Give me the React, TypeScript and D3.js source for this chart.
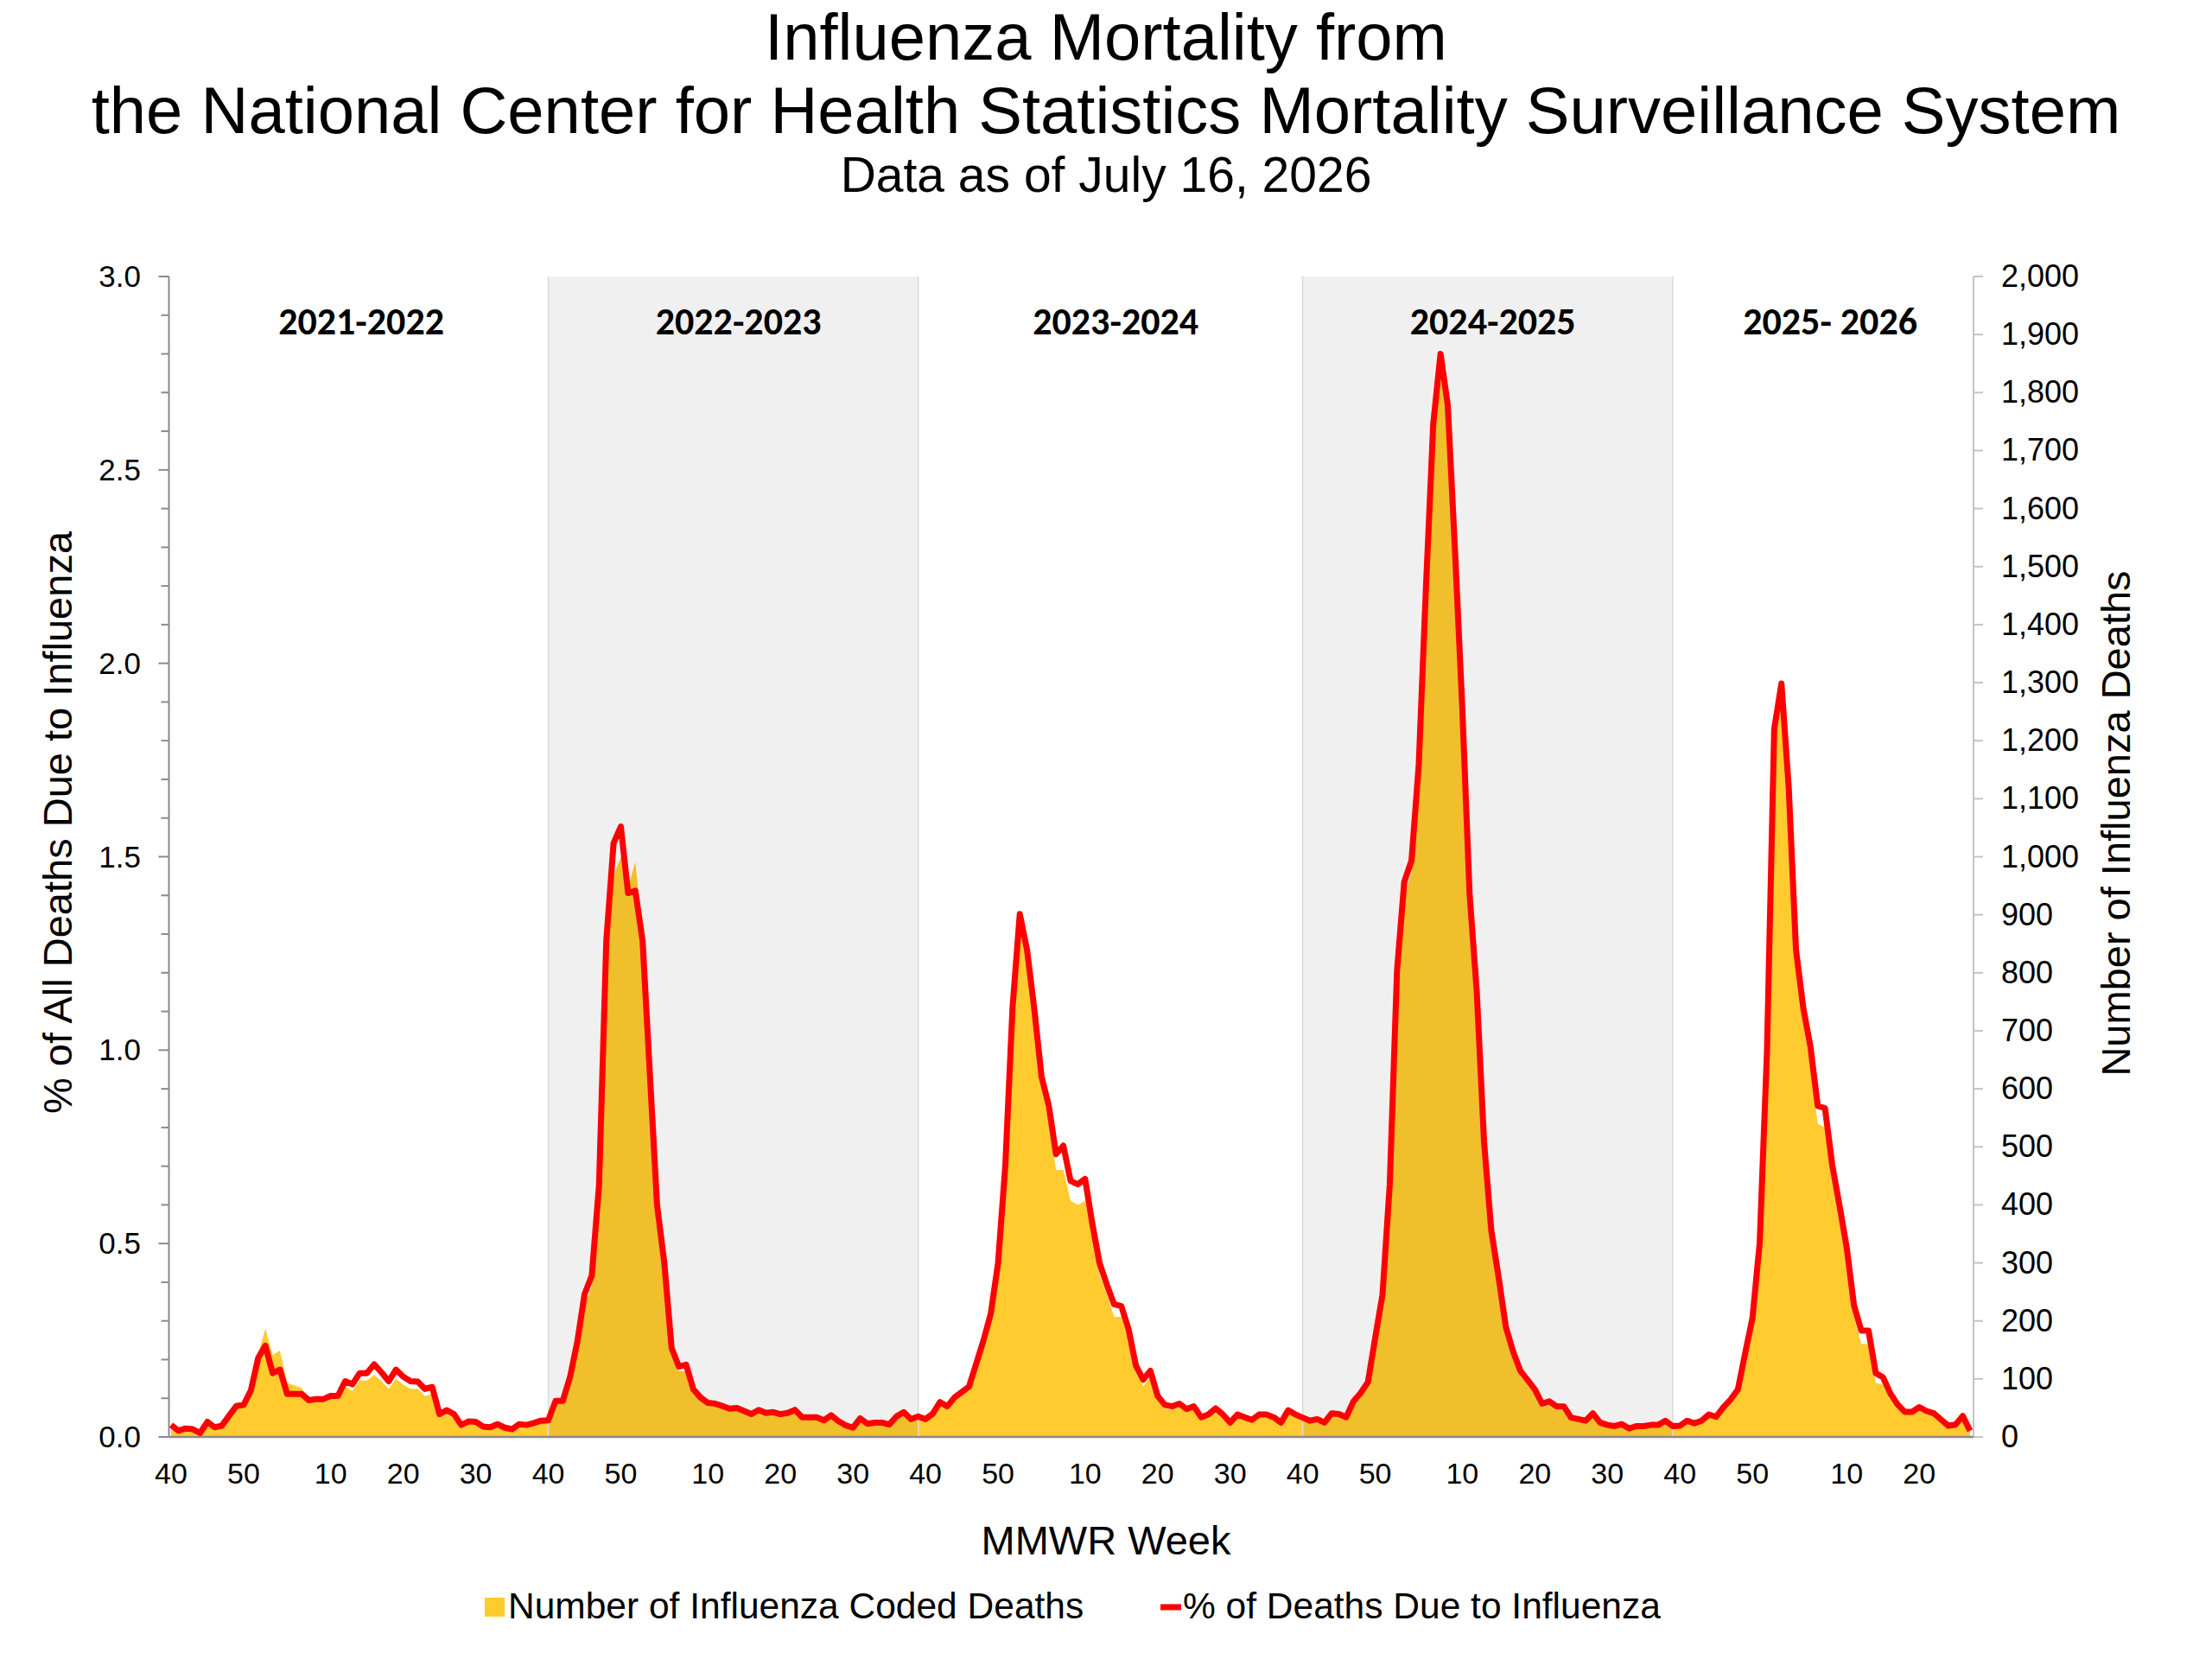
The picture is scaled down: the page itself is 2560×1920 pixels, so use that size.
import { useEffect, useRef } from "react";
import * as d3 from "d3";

// Seasons run from MMWR week 40 to week 39 of the next year (last season still in progress)
const SEASONS = [
  { label: "2021-2022", lastWeekOfYear: 52, endWeek: 39, shaded: false },
  { label: "2022-2023", lastWeekOfYear: 52, endWeek: 39, shaded: true },
  { label: "2023-2024", lastWeekOfYear: 52, endWeek: 39, shaded: false },
  { label: "2024-2025", lastWeekOfYear: 52, endWeek: 39, shaded: true },
  { label: "2025- 2026", lastWeekOfYear: 53, endWeek: 27, shaded: false },
];

// % of all deaths due to influenza (left axis)
const PCT_2021_22 = [
  0.031, 0.016, 0.022, 0.02, 0.01, 0.039, 0.025, 0.029, 0.055, 0.08, 0.083, 0.12, 0.204, 0.236, 0.165,
  0.174, 0.111, 0.111, 0.111, 0.095, 0.098, 0.098, 0.106, 0.106, 0.144, 0.136, 0.165, 0.165, 0.188, 0.167,
  0.144, 0.174, 0.156, 0.144, 0.143, 0.124, 0.129, 0.059, 0.069, 0.059, 0.031, 0.04, 0.039, 0.027, 0.025,
  0.033, 0.024, 0.02, 0.033, 0.031, 0.036, 0.042,
];
const PCT_2022_23 = [
  0.043, 0.093, 0.093, 0.155, 0.246, 0.369, 0.417, 0.652, 1.283, 1.535, 1.578, 1.406, 1.412, 1.283, 0.94,
  0.599, 0.449, 0.23, 0.182, 0.187, 0.123, 0.102, 0.088, 0.086, 0.08, 0.073, 0.075, 0.067, 0.059, 0.07,
  0.062, 0.064, 0.059, 0.062, 0.07, 0.051, 0.051, 0.051, 0.043, 0.056, 0.041, 0.03, 0.024, 0.048, 0.034,
  0.037, 0.037, 0.032, 0.053, 0.064, 0.046, 0.053,
];
const PCT_2023_24 = [
  0.046, 0.06, 0.09, 0.079, 0.102, 0.116, 0.13, 0.19, 0.25, 0.319, 0.449, 0.7, 1.11, 1.352, 1.259,
  1.106, 0.931, 0.856, 0.731, 0.753, 0.662, 0.653, 0.667, 0.551, 0.449, 0.394, 0.343, 0.338, 0.278, 0.185,
  0.148, 0.171, 0.106, 0.083, 0.079, 0.086, 0.072, 0.079, 0.051, 0.058, 0.074, 0.058, 0.037, 0.058, 0.051,
  0.044, 0.058, 0.058, 0.051, 0.037, 0.069, 0.058,
];
const PCT_2024_25 = [
  0.05, 0.042, 0.046, 0.037, 0.061, 0.059, 0.051, 0.092, 0.114, 0.142, 0.257, 0.368, 0.653, 1.205, 1.435,
  1.49, 1.738, 2.2, 2.62, 2.8, 2.667, 2.29, 1.885, 1.407, 1.15, 0.763, 0.533, 0.414, 0.285, 0.221,
  0.171, 0.147, 0.123, 0.086, 0.092, 0.079, 0.079, 0.05, 0.046, 0.042, 0.061, 0.037, 0.031, 0.028, 0.033,
  0.022, 0.028, 0.028, 0.031, 0.031, 0.042, 0.028,
];
const PCT_2025_26 = [
  0.029, 0.042, 0.035, 0.042, 0.058, 0.052, 0.077, 0.097, 0.123, 0.217, 0.307, 0.502, 0.995, 1.83, 1.948,
  1.68, 1.26, 1.11, 1.008, 0.856, 0.85, 0.703, 0.599, 0.489, 0.34, 0.275, 0.275, 0.165, 0.154, 0.113,
  0.084, 0.065, 0.065, 0.077, 0.067, 0.061, 0.045, 0.029, 0.032, 0.054, 0.016,
];

// Number of influenza coded deaths (right axis)
const DEATHS_2021_22 = [
  17, 8, 12, 11, 5, 22, 13, 16, 32, 48, 52, 77, 143, 187, 141, 149, 93, 89, 84, 67, 65, 64, 68, 67, 87,
  79, 97, 97, 107, 96, 83, 100, 90, 83, 83, 70, 75, 33, 39, 33, 17, 22, 21, 15, 13, 18, 13, 11, 18, 17,
  20, 24,
];
const DEATHS_2022_23 = [
  27, 57, 59, 100, 160, 227, 260, 427, 833, 967, 1000, 947, 991, 867, 633, 387, 287, 147, 113, 113, 77,
  63, 55, 53, 49, 45, 47, 41, 36, 43, 38, 39, 36, 38, 43, 31, 31, 31, 26, 33, 25, 18, 14, 29, 20, 22, 22,
  19, 32, 39, 28, 32,
];
const DEATHS_2023_24 = [
  27, 35, 53, 47, 61, 70, 80, 120, 160, 207, 293, 460, 733, 887, 827, 720, 600, 547, 460, 460, 407, 400,
  407, 347, 280, 247, 207, 207, 173, 113, 87, 103, 63, 49, 47, 51, 43, 47, 30, 34, 44, 34, 21, 34, 30,
  26, 34, 34, 30, 21, 41, 34,
];
const DEATHS_2024_25 = [
  30, 25, 27, 22, 37, 35, 31, 57, 70, 87, 160, 233, 420, 780, 933, 973, 1133, 1440, 1720, 1840, 1753,
  1500, 1233, 913, 747, 493, 340, 260, 180, 137, 105, 90, 75, 52, 55, 47, 47, 30, 27, 25, 36, 22, 18, 17,
  19, 13, 17, 17, 18, 18, 25, 17,
];
const DEATHS_2025_26 = [
  17, 25, 20, 25, 35, 31, 47, 60, 77, 137, 193, 320, 647, 1200, 1267, 1080, 813, 713, 640, 540, 533,
  440, 380, 307, 207, 160, 160, 93, 90, 67, 50, 39, 39, 46, 40, 36, 27, 17, 19, 32, 9,
];

const PCT = [PCT_2021_22, PCT_2022_23, PCT_2023_24, PCT_2024_25, PCT_2025_26];
const DEATHS = [DEATHS_2021_22, DEATHS_2022_23, DEATHS_2023_24, DEATHS_2024_25, DEATHS_2025_26];

const WEEK_LABELS = [40, 50, 10, 20, 30];
const LEFT_LABELS = [0, 0.5, 1, 1.5, 2, 2.5, 3];

const AREA_COLOR = "#FFCB2F";
const LINE_COLOR = "#FF0000";
const FONT = "'Liberation Sans', Arial, sans-serif";

interface Row {
  i: number;
  week: number;
  pct: number;
  deaths: number;
}

const App = () => {
  const svgRef = useRef<SVGSVGElement>(null);

  useEffect(() => {
    if (!svgRef.current) return;
    const width = 2560;
    const height = 1920;
    const plot = { left: 195.5, right: 2284, top: 320, bottom: 1663 };

    // Flatten the seasons into one weekly sequence
    const rows: Row[] = [];
    const seasonSpans: { label: string; shaded: boolean; start: number; end: number }[] = [];
    SEASONS.forEach((s, si) => {
      const weeks = [...d3.range(40, s.lastWeekOfYear + 1), ...d3.range(1, s.endWeek + 1)];
      const start = rows.length;
      weeks.forEach((w, j) => {
        rows.push({ i: rows.length, week: w, pct: PCT[si][j], deaths: DEATHS[si][j] });
      });
      seasonSpans.push({ label: s.label, shaded: s.shaded, start, end: rows.length - 1 });
    });

    const svg = d3.select(svgRef.current);
    svg.selectAll("*").remove();
    svg.attr("width", width).attr("height", height);

    svg.append("rect").attr("width", width).attr("height", height).attr("fill", "#fff");

    const x = d3.scaleLinear().domain([0, rows.length - 1]).range([198, 2280]);
    const yL = d3.scaleLinear().domain([0, 3]).range([plot.bottom, plot.top]);
    const yR = d3.scaleLinear().domain([0, 2000]).range([plot.bottom, plot.top]);

    // Deaths area
    const area = d3
      .area<Row>()
      .x((d) => x(d.i))
      .y0(plot.bottom)
      .y1((d) => yR(d.deaths));
    svg.append("path").datum(rows).attr("d", area).attr("fill", AREA_COLOR);

    // Alternate season shading (sits over the area, as in the original)
    const shaded = seasonSpans.filter((s) => s.shaded);
    svg
      .append("g")
      .selectAll("rect")
      .data(shaded)
      .join("rect")
      .attr("x", (d) => x(d.start))
      .attr("y", plot.top)
      .attr("width", (d) => x(d.end) - x(d.start))
      .attr("height", plot.bottom - plot.top)
      .attr("fill", "#000")
      .attr("fill-opacity", 0.06);
    shaded.forEach((s) => {
      [s.start, s.end].forEach((idx) => {
        svg
          .append("line")
          .attr("x1", x(idx))
          .attr("x2", x(idx))
          .attr("y1", plot.top)
          .attr("y2", plot.bottom)
          .attr("stroke", "#dadada")
          .attr("stroke-width", 1.5);
      });
    });

    // Left axis
    const axisColor = "#8a8a8a";
    svg
      .append("line")
      .attr("x1", plot.left)
      .attr("x2", plot.left)
      .attr("y1", plot.top)
      .attr("y2", plot.bottom)
      .attr("stroke", axisColor)
      .attr("stroke-width", 2);
    d3.range(0, 31).forEach((k) => {
      const v = k / 10;
      const len = k % 5 === 0 ? 12 : 9;
      svg
        .append("line")
        .attr("x1", plot.left - len)
        .attr("x2", plot.left)
        .attr("y1", yL(v))
        .attr("y2", yL(v))
        .attr("stroke", axisColor)
        .attr("stroke-width", 2);
    });
    svg
      .append("g")
      .selectAll("text")
      .data(LEFT_LABELS)
      .join("text")
      .attr("x", 163)
      .attr("y", (d) => yL(d) + 12)
      .attr("text-anchor", "end")
      .attr("font-family", FONT)
      .attr("font-size", 35)
      .attr("fill", "#000")
      .text((d) => d3.format(".1f")(d));

    // Right axis
    const rightColor = "#c4c4c4";
    svg
      .append("line")
      .attr("x1", plot.right)
      .attr("x2", plot.right)
      .attr("y1", plot.top)
      .attr("y2", plot.bottom)
      .attr("stroke", rightColor)
      .attr("stroke-width", 2);
    const rightTicks = d3.range(0, 2001, 100);
    svg
      .append("g")
      .selectAll("line")
      .data(rightTicks)
      .join("line")
      .attr("x1", plot.right)
      .attr("x2", plot.right + 11)
      .attr("y1", (d) => yR(d))
      .attr("y2", (d) => yR(d))
      .attr("stroke", rightColor)
      .attr("stroke-width", 2);
    svg
      .append("g")
      .selectAll("text")
      .data(rightTicks)
      .join("text")
      .attr("x", 2316)
      .attr("y", (d) => yR(d) + 12)
      .attr("font-family", FONT)
      .attr("font-size", 36)
      .attr("fill", "#000")
      .text((d) => d3.format(",")(d));

    // Bottom axis
    svg
      .append("line")
      .attr("x1", plot.left)
      .attr("x2", plot.right)
      .attr("y1", plot.bottom)
      .attr("y2", plot.bottom)
      .attr("stroke", axisColor)
      .attr("stroke-width", 2.5);
    svg
      .append("g")
      .selectAll("text")
      .data(rows.filter((d) => WEEK_LABELS.includes(d.week)))
      .join("text")
      .attr("x", (d) => x(d.i))
      .attr("y", 1717)
      .attr("text-anchor", "middle")
      .attr("font-family", FONT)
      .attr("font-size", 34)
      .attr("fill", "#000")
      .text((d) => d.week);

    // % of deaths line
    const line = d3
      .line<Row>()
      .x((d) => x(d.i))
      .y((d) => yL(d.pct));
    svg
      .append("path")
      .datum(rows)
      .attr("d", line)
      .attr("fill", "none")
      .attr("stroke", LINE_COLOR)
      .attr("stroke-width", 7)
      .attr("stroke-linejoin", "round");

    // Season labels
    svg
      .append("g")
      .selectAll("text")
      .data(seasonSpans)
      .join("text")
      .attr("x", (d) => x((d.start + d.end) / 2) + 6)
      .attr("y", 387)
      .attr("text-anchor", "middle")
      .attr("font-family", "Carlito, Lato, 'Open Sans', sans-serif")
      .attr("font-weight", 700)
      .attr("font-size", 44)
      .attr("fill", "#000")
      .text((d) => d.label);

    // Titles
    const titles = [
      { text: "Influenza Mortality from", y: 69, size: 76 },
      { text: "the National Center for Health Statistics Mortality Surveillance System", y: 154, size: 76 },
      { text: "Data as of July 16, 2026", y: 222, size: 57 },
    ];
    titles.forEach((t) => {
      svg
        .append("text")
        .attr("x", width / 2)
        .attr("y", t.y)
        .attr("text-anchor", "middle")
        .attr("font-family", FONT)
        .attr("font-size", t.size)
        .attr("fill", "#000")
        .text(t.text);
    });

    // Axis titles
    svg
      .append("text")
      .attr("transform", "translate(83,952) rotate(-90)")
      .attr("text-anchor", "middle")
      .attr("font-family", FONT)
      .attr("font-size", 47)
      .attr("fill", "#000")
      .text("% of All Deaths Due to Influenza");
    svg
      .append("text")
      .attr("transform", "translate(2465,953) rotate(-90)")
      .attr("text-anchor", "middle")
      .attr("font-family", FONT)
      .attr("font-size", 47)
      .attr("fill", "#000")
      .text("Number of Influenza Deaths");
    svg
      .append("text")
      .attr("x", width / 2)
      .attr("y", 1799)
      .attr("text-anchor", "middle")
      .attr("font-family", FONT)
      .attr("font-size", 47)
      .attr("fill", "#000")
      .text("MMWR Week");

    // Legend
    const legend = svg.append("g");
    legend
      .append("rect")
      .attr("x", 561)
      .attr("y", 1849)
      .attr("width", 23)
      .attr("height", 22)
      .attr("fill", AREA_COLOR);
    legend
      .append("text")
      .attr("x", 588)
      .attr("y", 1873)
      .attr("font-family", FONT)
      .attr("font-size", 42.5)
      .attr("fill", "#000")
      .text("Number of Influenza Coded Deaths");
    legend
      .append("line")
      .attr("x1", 1343)
      .attr("x2", 1367)
      .attr("y1", 1860)
      .attr("y2", 1860)
      .attr("stroke", LINE_COLOR)
      .attr("stroke-width", 7);
    legend
      .append("text")
      .attr("x", 1369)
      .attr("y", 1873)
      .attr("font-family", FONT)
      .attr("font-size", 42.5)
      .attr("fill", "#000")
      .text("% of Deaths Due to Influenza");
  }, []);

  return (
    <svg
      ref={svgRef}
      width={2560}
      height={1920}
      style={{ position: "absolute", left: 0, top: 0, display: "block" }}
    />
  );
};

export default App;
